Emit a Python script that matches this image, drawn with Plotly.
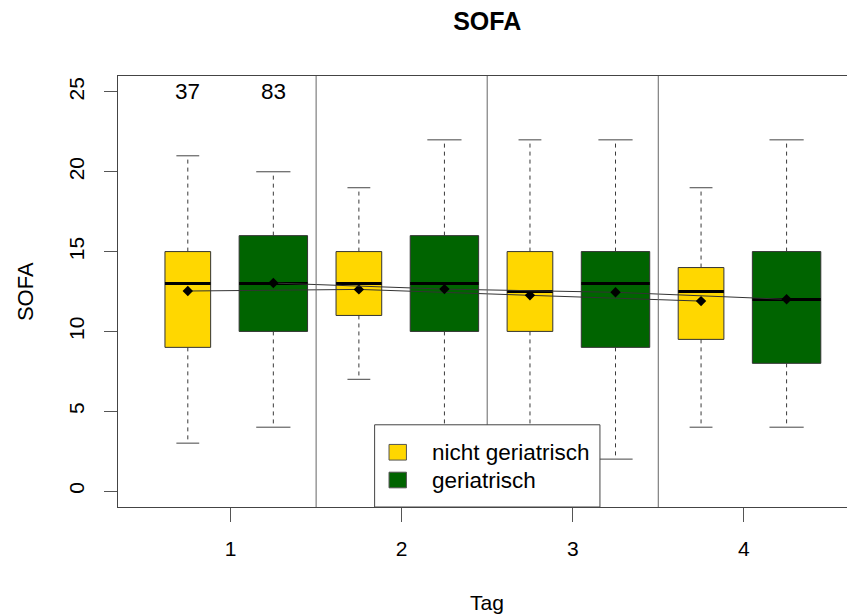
import numpy as np
import plotly.graph_objects as go

# Tage (Tag 1-4) und Gruppen
days = [1, 2, 3, 4]
groups = ["nicht geriatrisch", "geriatrisch"]
group_n = [37, 83]
group_colors = ["#FFD700", "#006400"]
group_offsets = [-0.25, 0.25]

# SOFA-Kennwerte je Tag: nicht geriatrisch
ng_lower = [3, 7, 3, 4]
ng_q1 = [9, 11, 10, 9.5]
ng_median = [13, 13, 12.5, 12.5]
ng_q3 = [15, 15, 15, 14]
ng_upper = [21, 19, 22, 19]
ng_mean = [12.53, 12.63, 12.26, 11.90]

# SOFA-Kennwerte je Tag: geriatrisch
g_lower = [4, 2, 2, 4]
g_q1 = [10, 10, 9, 8]
g_median = [13, 13, 13, 12]
g_q3 = [16, 16, 15, 15]
g_upper = [20, 22, 22, 22]
g_mean = [13.03, 12.65, 12.45, 12.01]

y_ticks = [0, 5, 10, 15, 20, 25]

stats = [
    dict(lower=ng_lower, q1=ng_q1, median=ng_median, q3=ng_q3, upper=ng_upper, mean=ng_mean),
    dict(lower=g_lower, q1=g_q1, median=g_median, q3=g_q3, upper=g_upper, mean=g_mean),
]

FONT = "Liberation Sans, Arial, sans-serif"
W, H = 847, 616
ML, MT, MB = 117.5, 75.5, 108.7
px_per_day = 171.2
x_lo = 0.342
x_hi = x_lo + (W - ML) / px_per_day
y_lo, y_hi = -1, 26

fig = go.Figure()

# box widths scale with sqrt(n) (varwidth)
max_n = max(group_n)
box_w = [0.4 * np.sqrt(n / max_n) for n in group_n]

for gi, st in enumerate(stats):
    xs = [d + group_offsets[gi] for d in days]
    w = box_w[gi]
    heights = [b - a for a, b in zip(st["q1"], st["q3"])]
    fig.add_trace(go.Bar(
        x=xs, y=heights, base=st["q1"], width=[w] * len(xs),
        marker=dict(color=group_colors[gi], line=dict(color="#333333", width=1)),
        showlegend=False, hoverinfo="skip",
    ))
    # dashed whiskers
    wx, wy = [], []
    for x, lo, a, b, hi in zip(xs, st["lower"], st["q1"], st["q3"], st["upper"]):
        wx += [x, x, None, x, x, None]
        wy += [b, hi, None, a, lo, None]
    fig.add_trace(go.Scatter(x=wx, y=wy, mode="lines",
                             line=dict(color="#3a3a3a", width=1, dash="4px,4px"),
                             showlegend=False, hoverinfo="skip"))
    # whisker caps
    cx, cy = [], []
    for x, lo, hi in zip(xs, st["lower"], st["upper"]):
        cx += [x - w / 4, x + w / 4, None, x - w / 4, x + w / 4, None]
        cy += [hi, hi, None, lo, lo, None]
    fig.add_trace(go.Scatter(x=cx, y=cy, mode="lines",
                             line=dict(color="#444444", width=1),
                             showlegend=False, hoverinfo="skip"))
    # medians
    mx, my = [], []
    for x, m in zip(xs, st["median"]):
        mx += [x - w / 2, x + w / 2, None]
        my += [m, m, None]
    fig.add_trace(go.Scatter(x=mx, y=my, mode="lines",
                             line=dict(color="black", width=3),
                             showlegend=False, hoverinfo="skip"))

# means connected over days
for gi, st in enumerate(stats):
    xs = [d + group_offsets[gi] for d in days]
    fig.add_trace(go.Scatter(x=xs, y=st["mean"], mode="lines+markers",
                             line=dict(color="#333333", width=1),
                             marker=dict(symbol="diamond", size=8, color="black"),
                             showlegend=False, hoverinfo="skip"))

shapes = []
# separators between days
for a, b in zip(days[:-1], days[1:]):
    xm = (a + b) / 2
    shapes.append(dict(type="line", xref="x", yref="paper", x0=xm, x1=xm, y0=0, y1=1,
                       line=dict(color="#666666", width=1), layer="above"))

# legend box at the bottom centre
leg_x0, leg_x1 = 1.842, 3.159
leg_y1 = 4.15
shapes.append(dict(type="rect", xref="x", yref="y", x0=leg_x0, x1=leg_x1, y0=y_lo, y1=leg_y1,
                   fillcolor="white", line=dict(color="#444444", width=1), layer="above"))
sq_x0, sq_x1 = 1.9262, 2.0279
row_y = [2.43, 0.69]
sq_h = 0.98
annotations = []
for gi, g in enumerate(groups):
    shapes.append(dict(type="rect", xref="x", yref="y", x0=sq_x0, x1=sq_x1,
                       y0=row_y[gi] - sq_h / 2, y1=row_y[gi] + sq_h / 2,
                       fillcolor=group_colors[gi], line=dict(color="#555555", width=1),
                       layer="above"))
    annotations.append(dict(x=2.163, y=row_y[gi], xref="x", yref="y", text=g,
                            showarrow=False, xanchor="left", yanchor="middle",
                            font=dict(family=FONT, size=22.5, color="black")))

# group sizes above day 1
for gi, n in enumerate(group_n):
    annotations.append(dict(x=days[0] + group_offsets[gi], y=25, xref="x", yref="y",
                            text=str(n), showarrow=False, xanchor="center", yanchor="middle",
                            font=dict(family=FONT, size=22.5, color="black")))

plot_w = W - ML
plot_h = H - MT - MB
x_center = ((x_lo + 4.658) / 2 - x_lo) / (x_hi - x_lo)
annotations.append(dict(x=x_center, y=-(603 - (H - MB)) / plot_h, xref="paper", yref="paper",
                        text="Tag", showarrow=False, xanchor="center", yanchor="middle",
                        font=dict(family=FONT, size=21, color="black")))
annotations.append(dict(x=(25 - ML) / plot_w, y=0.5, xref="paper", yref="paper",
                        text="SOFA", showarrow=False, xanchor="center", yanchor="middle",
                        textangle=-90, font=dict(family=FONT, size=22, color="black")))

fig.update_layout(
    width=W, height=H,
    margin=dict(l=ML, r=0, t=MT, b=MB, autoexpand=False),
    paper_bgcolor="white", plot_bgcolor="white",
    barmode="overlay",
    title=dict(text="<b>SOFA</b>", x=x_center, xref="paper", xanchor="center",
               y=1 - 21 / H, yref="container", yanchor="middle",
               font=dict(family=FONT, size=25, color="black")),
    xaxis=dict(range=[x_lo, x_hi], tickvals=days, ticktext=[str(d) for d in days],
               ticks="outside", ticklen=14, tickcolor="#555555", tickwidth=1,
               showline=True, linecolor="#444444", linewidth=1, mirror=True,
               showgrid=False, zeroline=False, automargin=False, ticklabelstandoff=9,
               tickfont=dict(family=FONT, size=21, color="black")),
    yaxis=dict(range=[y_lo, y_hi], tickvals=y_ticks, ticktext=[str(v) for v in y_ticks],
               ticks="outside", ticklen=13, tickcolor="#555555", tickwidth=1,
               showline=True, linecolor="#444444", linewidth=1, mirror=False,
               showgrid=False, zeroline=False, automargin=False, tickangle=-90,
               ticklabelstandoff=12,
               tickfont=dict(family=FONT, size=21, color="black")),
    shapes=shapes,
    annotations=annotations,
    showlegend=False,
)

fig.write_html("out.html")
